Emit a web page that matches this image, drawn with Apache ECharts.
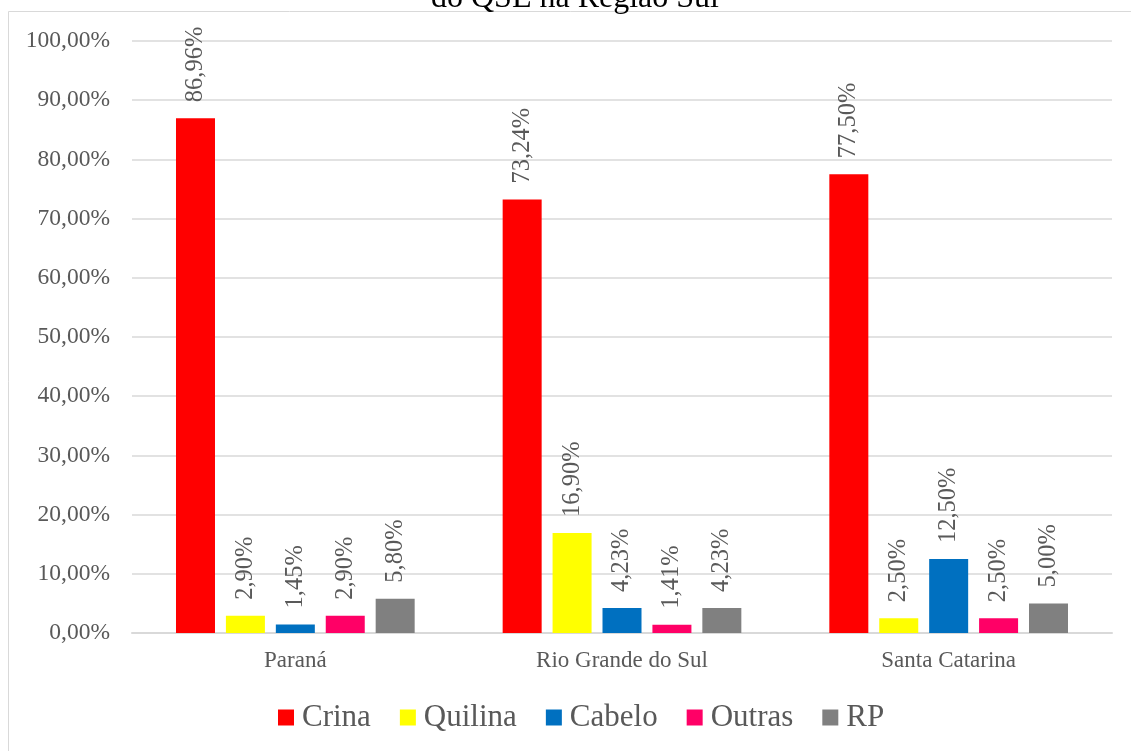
<!DOCTYPE html>
<html>
<head>
<meta charset="utf-8">
<script src="https://cdn.jsdelivr.net/npm/echarts@6/dist/echarts.min.js"></script>
<style>html,body{margin:0;padding:0;background:#fff}#c{width:1131px;height:751px}</style>
</head>
<body>
<div id="c"></div>
<script>
const categories = ["Paraná", "Rio Grande do Sul", "Santa Catarina"];
const seriesNames = ["Crina", "Quilina", "Cabelo", "Outras", "RP"];
const crina = [86.96, 73.24, 77.50];
const quilina = [2.90, 16.90, 2.50];
const cabelo = [1.45, 4.23, 12.50];
const outras = [2.90, 1.41, 2.50];
const rp = [5.80, 4.23, 5.00];
const colors = ["#FF0000", "#FFFF00", "#0070C0", "#FF0066", "#808080"];
const titleText = "do QSE na Região Sul";

const FONT = '"Liberation Serif", "Times New Roman", serif';
const fmt = v => v.toFixed(2).replace('.', ',') + '%';
const allData = [crina, quilina, cabelo, outras, rp];

const chart = echarts.init(document.getElementById('c'));
chart.setOption({
  animation: false,
  backgroundColor: '#fff',
  graphic: [
    { type: 'rect', shape: { x: 8.5, y: 11.5, width: 1200, height: 800 }, style: { fill: 'none', stroke: '#d9d9d9', lineWidth: 1 }, silent: true },
    { type: 'text', x: 575, y: 15, style: { text: titleText, font: '32px ' + FONT, fill: '#000', textAlign: 'center', textVerticalAlign: 'bottom' }, silent: true }
  ],
  grid: { left: 132, right: 19, top: 41, bottom: 118 },
  legend: {
    data: seriesNames,
    left: 278, top: 702, padding: 0,
    icon: 'rect', itemWidth: 16, itemHeight: 16, itemGap: 29,
    textStyle: { fontFamily: FONT, fontSize: 31, color: '#595959', padding: [0, 0, 0, 3] }
  },
  xAxis: {
    type: 'category', data: categories,
    axisLine: { lineStyle: { color: '#d9d9d9', width: 2 } },
    axisTick: { show: false },
    axisLabel: { fontFamily: FONT, fontSize: 23, color: '#595959', margin: 16 }
  },
  yAxis: {
    type: 'value', min: 0, max: 100, interval: 10,
    axisLine: { show: false }, axisTick: { show: false },
    splitLine: { lineStyle: { color: '#d9d9d9', width: 1.5 } },
    axisLabel: { fontFamily: FONT, fontSize: 23.5, color: '#595959', margin: 22, formatter: v => fmt(v) }
  },
  series: seriesNames.map((n, i) => ({
    name: n, type: 'bar', data: allData[i],
    barWidth: 39, barGap: '28%',
    itemStyle: { color: colors[i] },
    label: {
      show: true, position: 'top', rotate: 90, align: 'left', verticalAlign: 'middle', distance: 16,
      fontFamily: FONT, fontSize: 24.5, color: '#595959',
      formatter: p => fmt(p.value)
    }
  }))
});
</script>
</body>
</html>
